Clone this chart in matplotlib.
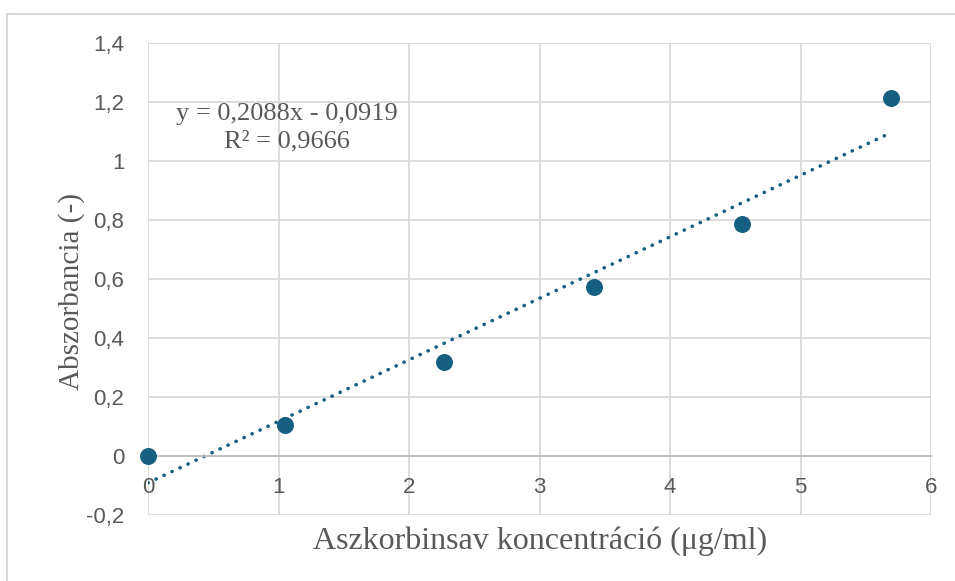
import numpy as np
import matplotlib.pyplot as plt
from matplotlib.patches import Rectangle
from matplotlib.ticker import FuncFormatter

conc = [0, 1.05, 2.27, 3.42, 4.55, 5.69]
absorb = [0, 0.105, 0.319, 0.572, 0.785, 1.213]
eq_text = "y = 0,2088x - 0,0919\nR² = 0,9666"

blue = '#156082'
grey_txt = '#595959'
grid_c = '#d9d9d9'

fig = plt.figure(figsize=(9.55, 5.81), dpi=100)
# outer chart border
fig.patches.append(Rectangle((7/955, -0.1), 1.1, 1 - 14/581 + 0.1,
                             transform=fig.transFigure, fill=False,
                             edgecolor=grid_c, lw=1.5))

ax = fig.add_axes([148/955, 1 - 515/581, (931-148)/955, (515-43)/581])
ax.set_xlim(0, 6)
ax.set_ylim(-0.2, 1.4)
ax.set_xticks(range(0, 7))
ax.set_yticks(np.arange(-0.2, 1.41, 0.2))

comma = FuncFormatter(lambda v, p: ('%g' % round(v, 2)).replace('.', ','))
ax.xaxis.set_major_formatter(comma)
ax.yaxis.set_major_formatter(comma)

ax.grid(True, color=grid_c, lw=1.3)
ax.set_axisbelow(True)
for s in ['top', 'right', 'left']:
    ax.spines[s].set_visible(False)
ax.spines['bottom'].set_position(('data', 0))
ax.spines['bottom'].set_color('#bfbfbf')
ax.spines['bottom'].set_linewidth(1.3)

ax.tick_params(axis='both', length=0, labelsize=16, labelcolor=grey_txt)
ax.tick_params(axis='y', pad=17)
ax.tick_params(axis='x', pad=15)
for lab in ax.get_xticklabels() + ax.get_yticklabels():
    lab.set_family('Liberation Sans')

# linear trendline
k, b = np.polyfit(conc, absorb, 1)
xs = np.array([0, max(conc)])
ax.plot(xs, k * xs + b, color=blue, lw=2.6, linestyle=(0, (0.05, 2.4)),
        dash_capstyle='round', zorder=2)

ax.scatter(conc, absorb, s=125, color=blue, zorder=3, clip_on=False)

ax.text(0.1775, 0.82, eq_text, transform=ax.transAxes, ha='center', va='center',
        fontsize=19, color=grey_txt, family='Liberation Serif', linespacing=1.35)

ax.set_xlabel('Aszkorbinsav koncentráció (μg/ml)', fontsize=23, color=grey_txt,
              family='Liberation Serif')
ax.xaxis.set_label_coords((540 - 148) / 783, -(541 - 515) / 472, transform=ax.transAxes)
ax.xaxis.label.set_va('center')
ax.set_ylabel('Abszorbancia (-)', fontsize=21, color=grey_txt,
              family='Liberation Serif')
ax.yaxis.set_label_coords(-(148 - 72) / 783, (515 - 291) / 472, transform=ax.transAxes)
ax.yaxis.label.set_va('center')

fig.savefig('out.png', dpi=100)
